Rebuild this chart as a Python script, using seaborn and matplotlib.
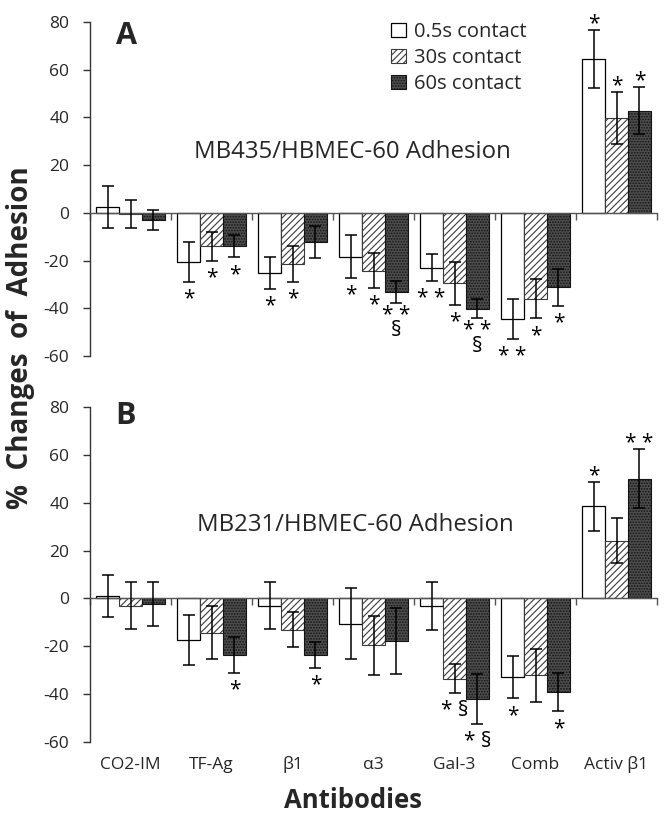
import numpy as np
import pandas as pd
import matplotlib
matplotlib.use("Agg")
import matplotlib.pyplot as plt
from matplotlib.patches import Patch
import seaborn as sns

# ---------------- data ----------------
antibodies = ["CO2-IM", "TF-Ag", "β1", "α3", "Gal-3", "Comb", "Activ β1"]
contacts = ["0.5s contact", "30s contact", "60s contact"]
y_ticks = [80, 60, 40, 20, 0, -20, -40, -60]

# Panel A : MB435/HBMEC-60
a_05 = [2.5, -20.6, -25.2, -18.3, -23.0, -44.5, 64.5]
a_05_err = [8.8, 8.2, 6.7, 8.9, 5.6, 8.5, 12.2]
a_30 = [-0.4, -14.0, -21.5, -24.2, -29.5, -36.0, 39.8]
a_30_err = [5.9, 6.0, 7.4, 7.3, 9.0, 8.2, 11.0]
a_60 = [-3.0, -14.0, -12.2, -33.2, -40.2, -31.2, 42.8]
a_60_err = [4.3, 4.7, 6.9, 4.5, 4.0, 7.8, 9.8]
a_marks_05 = ["", "*", "*", "*", "* *", "* *", "*"]
a_marks_30 = ["", "*", "*", "*", "*", "*", "*"]
a_marks_60 = ["", "*", "", "* *\n§", "* *\n§", "*", "*"]

# Panel B : MB231/HBMEC-60
b_05 = [1.0, -17.5, -3.0, -10.5, -3.0, -33.0, 38.5]
b_05_err = [8.8, 10.4, 9.8, 15.0, 10.0, 8.8, 10.3]
b_30 = [-3.0, -14.3, -13.0, -19.6, -33.6, -32.2, 24.2]
b_30_err = [9.7, 11.0, 7.2, 12.2, 6.1, 11.0, 9.3]
b_60 = [-2.5, -23.5, -23.7, -17.6, -42.0, -39.2, 50.0]
b_60_err = [9.2, 7.5, 5.3, 13.8, 10.5, 8.0, 12.3]
b_marks_05 = ["", "", "", "", "", "*", "*"]
b_marks_30 = ["", "", "", "", "* §", "", ""]
b_marks_60 = ["", "*", "*", "", "* §", "*", "* *"]

# ---------------- style ----------------
sns.set_style("white")
plt.rcParams["font.family"] = ["Open Sans", "DejaVu Sans"]
plt.rcParams["hatch.linewidth"] = 0.8

styles = [
    dict(facecolor="white", edgecolor="black", hatch=None, lw=0.9),
    dict(facecolor="white", edgecolor="#3a3a3a", hatch="/////", lw=0.8),
    dict(facecolor="#4d4d4d", edgecolor="#141414", hatch="......", lw=0.8),
]
STAR_FS = 15

fig = plt.figure(figsize=(6.64, 8.16), dpi=100)
ax_a = fig.add_axes([90 / 664, 1 - 356 / 816, 567 / 664, 334 / 816])
ax_b = fig.add_axes([90 / 664, 1 - 742 / 816, 567 / 664, 335 / 816])


def draw_panel(ax, vals, errs, marks, show_labels):
    rows = []
    for c, v in zip(contacts, vals):
        for ab, x in zip(antibodies, v):
            rows.append({"antibody": ab, "contact": c, "value": x})
    df = pd.DataFrame(rows)
    sns.barplot(data=df, x="antibody", y="value", hue="contact",
                order=antibodies, hue_order=contacts, errorbar=None,
                width=0.85, gap=0, legend=False, ax=ax,
                palette=["white", "white", "#4d4d4d"])
    for cont, st, v, e, mk in zip(ax.containers, styles, vals, errs, marks):
        xs = []
        for p in cont.patches:
            p.set_facecolor(st["facecolor"])
            p.set_edgecolor(st["edgecolor"])
            p.set_linewidth(st["lw"])
            if st["hatch"]:
                p.set_hatch(st["hatch"])
            xs.append(p.get_x() + p.get_width() / 2)
        ax.errorbar(xs, v, yerr=e, fmt="none", ecolor="black",
                    elinewidth=1.1, capsize=4.5, capthick=1.1, zorder=5)
        for x, val, er, m in zip(xs, v, e, mk):
            if not m:
                continue
            n_extra = m.count("\n")
            if val < 0:
                y0 = val - er - 9.5 - n_extra * 4.6
            else:
                y0 = val + er + 0.3
            ax.text(x, y0, m, ha="center", va="baseline", linespacing=0.68,
                    fontsize=STAR_FS, color="black", zorder=6)

    ax.set_ylim(-60, 80)
    ax.set_xlim(-0.5, len(antibodies) - 0.5)
    ax.set_yticks(y_ticks)
    ax.set_yticklabels([str(t) for t in y_ticks], fontsize=12.5)
    ax.set_xticks(np.arange(-0.5, len(antibodies), 1.0))
    ax.set_xticklabels([])
    ax.tick_params(axis="y", direction="out", length=5, width=1,
                   color="#333333", pad=10, left=True)
    ax.tick_params(axis="x", direction="out", length=5, width=1,
                   color="#555555", bottom=True)
    for s in ["top", "right"]:
        ax.spines[s].set_visible(False)
    ax.spines["left"].set_color("#333333")
    ax.spines["left"].set_linewidth(1.0)
    ax.spines["bottom"].set_position(("data", 0))
    ax.spines["bottom"].set_color("#555555")
    ax.spines["bottom"].set_linewidth(1.0)
    ax.set_xlabel("")
    ax.set_ylabel("")
    ax.set_facecolor("white")

    if show_labels:
        for i, ab in enumerate(antibodies):
            ax.text(i, -0.068, ab, transform=ax.get_xaxis_transform(),
                    ha="center", va="center", fontsize=12.5)
    return ax


draw_panel(ax_a, [a_05, a_30, a_60], [a_05_err, a_30_err, a_60_err],
           [a_marks_05, a_marks_30, a_marks_60], False)
draw_panel(ax_b, [b_05, b_30, b_60], [b_05_err, b_30_err, b_60_err],
           [b_marks_05, b_marks_30, b_marks_60], True)

# panel titles / letters
fig.text(352 / 664, 1 - 152 / 816, "MB435/HBMEC-60 Adhesion", ha="center",
         va="center", fontsize=17.3)
fig.text(355 / 664, 1 - 525 / 816, "MB231/HBMEC-60 Adhesion", ha="center",
         va="center", fontsize=17.3)
fig.text(126 / 664, 1 - 36 / 816, "A", ha="center", va="center",
         fontsize=22, fontweight="bold")
fig.text(126 / 664, 1 - 416 / 816, "B", ha="center", va="center",
         fontsize=22, fontweight="bold")

# axis labels
fig.text(353 / 664, 1 - 800 / 816, "Antibodies", ha="center", va="center",
         fontsize=18.5, fontweight="bold")
fig.text(21 / 664, 1 - 338 / 816, "%  Changes  of  Adhesion", ha="center",
         va="center", rotation=90, fontsize=20, fontweight="bold")

# legend
handles = [Patch(facecolor=st["facecolor"], edgecolor=st["edgecolor"],
                 hatch=st["hatch"], linewidth=st["lw"]) for st in styles]
fig.legend(handles=handles, labels=contacts, loc="upper left",
           bbox_to_anchor=(391 / 664, 1 - 22 / 816), frameon=False,
           fontsize=14.5, handlelength=0.75, handleheight=0.75,
           handletextpad=0.4, labelspacing=0.3, borderpad=0, borderaxespad=0)

fig.savefig("out.png", dpi=100, facecolor="white")
